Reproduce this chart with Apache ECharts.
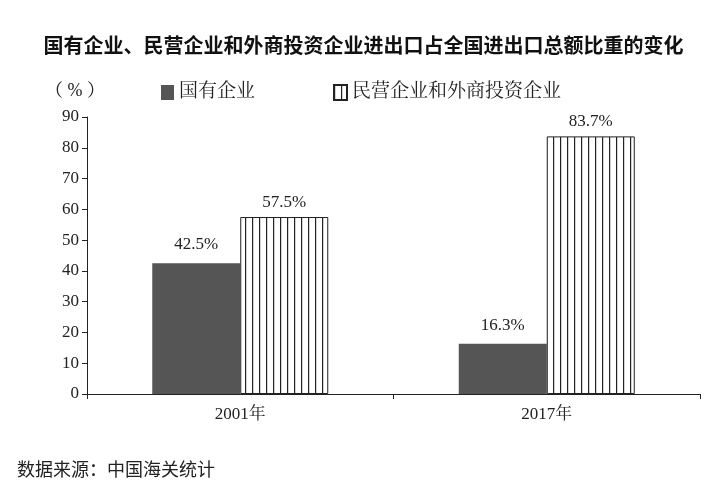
<!DOCTYPE html>
<html><head><meta charset="utf-8">
<script src="https://cdn.jsdelivr.net/npm/echarts@6/dist/echarts.min.js"></script>
<style>body{margin:0;background:#fff}#c{width:727px;height:500px}</style>
</head><body><div id="c"></div>
<script>
var categories = ['2001年', '2017年'];
var stateOwned = [42.5, 16.3];
var privateForeign = [57.5, 83.7];
var seriesNames = ['国有企业', '民营企业和外商投资企业'];

var cv = document.createElement('canvas');
cv.width = 7; cv.height = 10;
var g = cv.getContext('2d');
g.fillStyle = '#fff'; g.fillRect(0, 0, 7, 10);
g.fillStyle = '#222'; g.fillRect(0, 0, 1.2, 10);

var serif = '"Liberation Serif","Noto Serif CJK SC","Noto Sans CJK SC",serif';
var chart = echarts.init(document.getElementById('c'));
chart.setOption({
  animation: false,
  title: [
    {text: '国有企业、民营企业和外商投资企业进出口占全国进出口总额比重的变化', left: 'center', top: 30,
     textStyle: {fontFamily: 'Noto Sans CJK SC', fontSize: 20, fontWeight: 'bold', color: '#111'}},
    {text: '（ % ）', left: 40, top: 77, textStyle: {fontFamily: serif, fontSize: 18, fontWeight: 'normal', color: '#222'}},
    {text: '数据来源：中国海关统计', left: 12, top: 455, textStyle: {fontFamily: 'Noto Sans CJK SC', fontSize: 18, fontWeight: 'normal', color: '#222'}}
  ],
  legend: {
    left: 156, top: 78, itemWidth: 13, itemHeight: 15, itemGap: 78, icon: 'rect',
    textStyle: {fontFamily: serif, fontSize: 19, color: '#222'},
    data: seriesNames
  },
  grid: {left: 87, right: 27, top: 117, bottom: 106},
  xAxis: {
    type: 'category', data: categories,
    axisLine: {lineStyle: {color: '#222'}},
    axisTick: {show: true, length: 5, lineStyle: {color: '#222'}},
    axisLabel: {fontFamily: serif, fontSize: 17, color: '#222', margin: 12}
  },
  yAxis: {
    type: 'value', min: 0, max: 90, interval: 10,
    axisLine: {show: true, lineStyle: {color: '#222'}},
    axisTick: {show: true, length: 5, lineStyle: {color: '#222'}},
    splitLine: {show: false},
    axisLabel: {fontFamily: serif, fontSize: 17, color: '#222', margin: 8}
  },
  series: [
    {name: seriesNames[0], type: 'bar', data: stateOwned, barWidth: 88, barGap: '0%',
     itemStyle: {color: '#555'},
     label: {show: true, position: 'top', formatter: '{c}%', fontFamily: serif, fontSize: 17, color: '#222', distance: 10}},
    {name: seriesNames[1], type: 'bar', data: privateForeign, barWidth: 88,
     itemStyle: {color: {image: cv, repeat: 'repeat'}, borderColor: '#222', borderWidth: 1},
     label: {show: true, position: 'top', formatter: '{c}%', fontFamily: serif, fontSize: 17, color: '#222', distance: 6}}
  ]
});
</script></body></html>
